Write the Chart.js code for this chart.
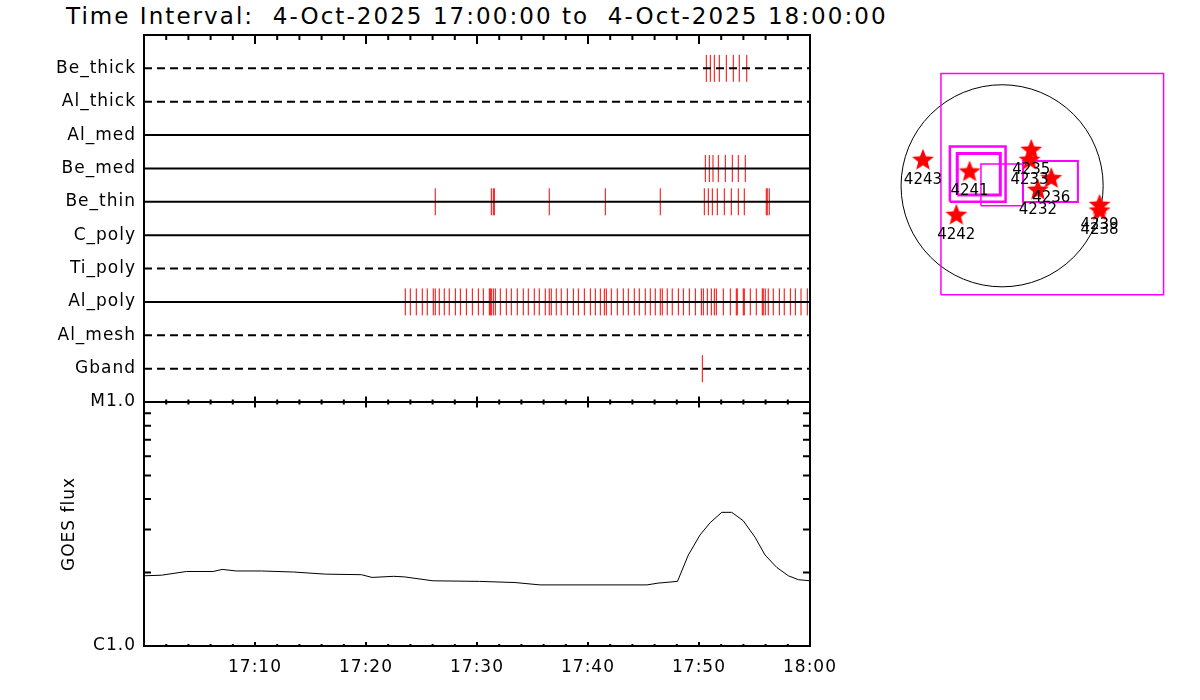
<!DOCTYPE html>
<html lang="en">
<head>
<meta charset="UTF-8">
<title>Time Interval 4-Oct-2025 17:00 to 18:00</title>
<script src="https://cdn.jsdelivr.net/npm/chart.js"></script>
<style>
  body { margin: 0; background: #fff; width: 1200px; height: 700px; position: relative; overflow: hidden; }
  canvas { position: absolute; left: 0; top: 0; }
  #title { position: absolute; left: 66px; top: 2px; font: 23px 'DejaVu Sans'; letter-spacing: 2.05px;
           white-space: pre; line-height: 28px; color: #000; }
</style>
</head>
<body>
<div id="title">Time Interval:  4-Oct-2025 17:00:00 to  4-Oct-2025 18:00:00</div>
<canvas id="filterChart" width="1200" height="700"></canvas>
<canvas id="goesChart" width="1200" height="700"></canvas>
<canvas id="mapChart" width="1200" height="700"></canvas>
<script>
// filter rows, top to bottom
const rowNames = ['Be_thick', 'Al_thick', 'Al_med', 'Be_med', 'Be_thin', 'C_poly', 'Ti_poly', 'Al_poly', 'Al_mesh', 'Gband'];
const rowDashed = [true, true, false, false, false, false, true, false, true, true];

// event times, minutes after 17:00
const beThickTimes = [50.66, 51.02, 51.38, 51.83, 52.46, 53.09, 53.63, 54.30];
const alThickTimes = [];
const alMedTimes = [];
const beMedTimes = [50.57, 50.93, 51.26, 51.74, 52.37, 53.00, 53.54, 54.17];
const beThinTimes = [26.24, 31.29, 31.47, 31.56, 36.51, 41.56, 46.51, 50.48, 50.84, 51.20, 51.65,
  52.28, 52.91, 53.54, 54.08, 56.06, 56.15, 56.33];
const cPolyTimes = [];
const tiPolyTimes = [];
const alPolyTimes = [23.54, 23.99, 24.53, 25.07, 25.52, 26.06, 26.24, 26.60, 27.05, 27.50, 28.05, 28.50,
  29.04, 29.58, 30.12, 30.57, 31.11, 31.20, 31.29, 31.47, 31.65, 32.10, 32.64, 33.09, 33.63, 34.17,
  34.62, 35.16, 35.61, 36.15, 36.51, 36.69, 37.14, 37.59, 38.14, 38.68, 39.13, 39.67, 40.21, 40.66,
  41.11, 41.47, 41.65, 42.10, 42.64, 43.18, 43.63, 44.17, 44.62, 45.16, 45.61, 46.06, 46.51, 46.69,
  47.14, 47.59, 48.14, 48.59, 49.13, 49.67, 50.21, 50.39, 50.75, 51.11, 51.38, 51.56, 52.19, 52.82,
  53.36, 53.45, 53.99, 54.08, 54.62, 55.16, 55.70, 55.79, 55.97, 56.24, 56.69, 57.24, 57.68, 58.23,
  58.68, 59.19, 59.76];
const alMeshTimes = [];
const gbandTimes = [50.30];
const rowTimes = [beThickTimes, alThickTimes, alMedTimes, beMedTimes, beThinTimes,
  cPolyTimes, tiPolyTimes, alPolyTimes, alMeshTimes, gbandTimes];

// GOES flux, minutes after 17:00 and W/m^2
const goesMinutes = [0, 1.56, 3.82, 6.23, 7.04, 8.32, 10.58, 13.48, 16.37, 19.59, 20.55, 22.49, 23.45,
  26.03, 30.21, 33.42, 35.68, 45.32, 46.30, 48.06, 49.04, 50.09, 51.00, 52.05, 52.95, 53.99, 55.05,
  55.95, 57.00, 58.05, 58.95, 60];
const goesFlux = [1.94e-6, 1.95e-6, 2.02e-6, 2.02e-6, 2.06e-6, 2.03e-6, 2.03e-6, 2.01e-6, 1.97e-6,
  1.96e-6, 1.91e-6, 1.93e-6, 1.92e-6, 1.85e-6, 1.84e-6, 1.82e-6, 1.78e-6, 1.78e-6, 1.81e-6, 1.84e-6,
  2.36e-6, 2.85e-6, 3.20e-6, 3.53e-6, 3.53e-6, 3.26e-6, 2.79e-6, 2.36e-6, 2.10e-6, 1.94e-6, 1.87e-6,
  1.85e-6];
const timeLabels = ['', '17:10', '17:20', '17:30', '17:40', '17:50', '18:00'];
const fluxMinorTicks = [2e-6, 3e-6, 4e-6, 5e-6, 6e-6, 7e-6, 8e-6, 9e-6];

// active regions (arcsec) and boxes [x0, y0, x1, y1]
const arNames = ['4243', '4241', '4242', '4235', '4233', '4236', '4232', '4239', '4238'];
const arX = [-752, -309, -435, 277, 261, 467, 340, 926, 926];
const arY = [247, 136, -276, 342, 247, 73, -38, -181, -235];
const boxX0 = [-581, -496, -426, -201, 198];
const boxY0 = [-1036, -152, -88, -190, -155];
const boxX1 = [1534, 33, -17, 198, 720];
const boxY1 = [1067, 373, 307, 206, 235];
const sunRadius = 960;

Chart.defaults.font.family = 'DejaVu Sans';
Chart.defaults.color = '#000';

const spacing = { id: 'spacing', beforeDraw(chart) { chart.ctx.letterSpacing = '1px'; } };

// box round the plot area and IDL style inward ticks
const frameTicks = {
  id: 'frameTicks',
  afterDatasetsDraw(chart, args, o) {
    const { ctx, chartArea: a } = chart;
    const xs = chart.scales.x, ys = chart.scales.y;
    ctx.save();
    ctx.strokeStyle = '#000';
    ctx.lineWidth = 2;
    ctx.strokeRect(a.left, a.top, a.right - a.left, a.bottom - a.top);
    ctx.beginPath();
    for (let m = 0; m <= 60; m += 2) {
      const px = xs.getPixelForValue(m);
      const k = m % 10 === 0 ? 1 : 0;
      ctx.moveTo(px, a.top); ctx.lineTo(px, a.top + o.topIn[k]);
      ctx.moveTo(px, a.bottom); ctx.lineTo(px, a.bottom - o.bottomIn[k]);
    }
    (o.yTicks || []).forEach(v => {
      const py = ys.getPixelForValue(v);
      ctx.moveTo(a.left, py); ctx.lineTo(a.left + o.yLen, py);
      ctx.moveTo(a.right, py); ctx.lineTo(a.right - o.yLen, py);
    });
    ctx.stroke();
    ctx.restore();
  }
};

// ---- filter event panel
const filterSets = [];
rowNames.forEach((name, i) => {
  filterSets.push({
    data: [{ x: 0, y: i + 1 }, { x: 60, y: i + 1 }],
    showLine: true, borderColor: '#000', borderWidth: 2, pointRadius: 0,
    borderDash: rowDashed[i] ? [8, 5] : []
  });
});
rowTimes.forEach((times, i) => {
  filterSets.push({
    data: times.map(t => ({ x: t, y: i + 1 })),
    pointStyle: 'line', pointRotation: 90, pointRadius: 13.5,
    pointBorderColor: '#ff0000', borderColor: '#ff0000', pointBorderWidth: 1, borderWidth: 1
  });
});

new Chart(document.getElementById('filterChart'), {
  type: 'scatter',
  data: { datasets: filterSets },
  options: {
    responsive: false, animation: false, events: [],
    layout: { padding: { left: 0, top: 35, right: 390, bottom: 298 } },
    plugins: {
      legend: { display: false }, tooltip: { enabled: false },
      frameTicks: { topIn: [5, 9], bottomIn: [2.5, 5.5] }
    },
    scales: {
      x: { type: 'linear', min: 0, max: 60, display: false },
      y: {
        type: 'linear', min: 0, max: 11, reverse: true,
        grid: { display: false }, border: { display: false },
        ticks: { stepSize: 1, autoSkip: false, padding: 0, font: { size: 17 },
                 callback: v => rowNames[v - 1] || '' },
        afterFit: s => { s.width = 144; }
      }
    }
  },
  plugins: [frameTicks, spacing]
});

// ---- GOES panel
new Chart(document.getElementById('goesChart'), {
  type: 'scatter',
  data: {
    datasets: [{
      data: goesMinutes.map((t, i) => ({ x: t, y: goesFlux[i] })),
      showLine: true, borderColor: '#000', borderWidth: 1, pointRadius: 0
    }]
  },
  options: {
    responsive: false, animation: false, events: [],
    layout: { padding: { left: 59, top: 402, right: 390, bottom: 0 } },
    plugins: {
      legend: { display: false }, tooltip: { enabled: false },
      frameTicks: { topIn: [2.5, 5.5], bottomIn: [2, 4], yTicks: fluxMinorTicks, yLen: 7 }
    },
    scales: {
      x: {
        type: 'linear', min: 0, max: 60,
        grid: { display: false }, border: { display: false },
        ticks: { stepSize: 10, autoSkip: false, maxRotation: 0, padding: 3, font: { size: 17 },
                 callback: v => timeLabels[Math.round(v / 10)] },
        afterFit: s => { s.height = 54; }
      },
      y: {
        type: 'logarithmic', min: 1e-6, max: 1e-5,
        grid: { display: false }, border: { display: false },
        title: { display: true, text: 'GOES flux', font: { size: 17 }, padding: 0 },
        ticks: { autoSkip: false, padding: 0, font: { size: 17 },
                 callback: v => Math.abs(v - 1e-5) < 1e-9 ? 'M1.0' : (Math.abs(v - 1e-6) < 1e-9 ? 'C1.0' : '') },
        afterFit: s => { s.width = 85; }
      }
    }
  },
  plugins: [frameTicks, spacing]
});

// ---- active region map
const starImg = document.createElement('canvas');
starImg.width = 24; starImg.height = 24;
(() => {
  const c = starImg.getContext('2d');
  c.fillStyle = '#ff0000';
  c.beginPath();
  for (let i = 0; i < 10; i++) {
    const r = i % 2 ? 5 : 11.5;
    const ang = -Math.PI / 2 + i * Math.PI / 5;
    c.lineTo(12 + r * Math.cos(ang), 12.5 + r * Math.sin(ang));
  }
  c.closePath();
  c.fill();
})();

const mapDecor = {
  id: 'mapDecor',
  beforeDatasetsDraw(chart) {
    const { ctx } = chart, xs = chart.scales.x, ys = chart.scales.y;
    const cx = xs.getPixelForValue(0), cy = ys.getPixelForValue(0);
    ctx.save();
    ctx.strokeStyle = '#000';
    ctx.lineWidth = 1;
    ctx.beginPath();
    ctx.arc(cx, cy, xs.getPixelForValue(sunRadius) - cx, 0, Math.PI * 2);
    ctx.stroke();
    ctx.restore();
  },
  afterDatasetsDraw(chart) {
    const { ctx } = chart, xs = chart.scales.x, ys = chart.scales.y;
    ctx.save();
    ctx.font = '15px "DejaVu Sans"';
    ctx.fillStyle = '#000';
    ctx.textAlign = 'center';
    ctx.textBaseline = 'middle';
    arNames.forEach((n, i) => ctx.fillText(n, xs.getPixelForValue(arX[i]), ys.getPixelForValue(arY[i]) + 20));
    ctx.restore();
  }
};

const boxWidths = [1.5, 2.5, 3, 1.5, 2];
const mapSets = [{
  data: arX.map((x, i) => ({ x, y: arY[i] })),
  pointStyle: starImg, pointRadius: 11
}];
boxX0.forEach((x0, i) => {
  const x1 = boxX1[i], y0 = boxY0[i], y1 = boxY1[i];
  mapSets.push({
    data: [{ x: x0, y: y0 }, { x: x1, y: y0 }, { x: x1, y: y1 }, { x: x0, y: y1 }, { x: x0, y: y0 }],
    showLine: true, borderColor: '#ff00ff', borderWidth: boxWidths[i], pointRadius: 0
  });
});

new Chart(document.getElementById('mapChart'), {
  type: 'scatter',
  data: { datasets: mapSets },
  options: {
    responsive: false, animation: false, events: [],
    layout: { padding: { left: 880, top: 60, right: 20, bottom: 390 } },
    plugins: { legend: { display: false }, tooltip: { enabled: false } },
    scales: {
      x: { type: 'linear', min: -1160, max: 1690, display: false },
      y: { type: 'linear', min: -1180, max: 1195, display: false }
    }
  },
  plugins: [mapDecor]
});
</script>
</body>
</html>
